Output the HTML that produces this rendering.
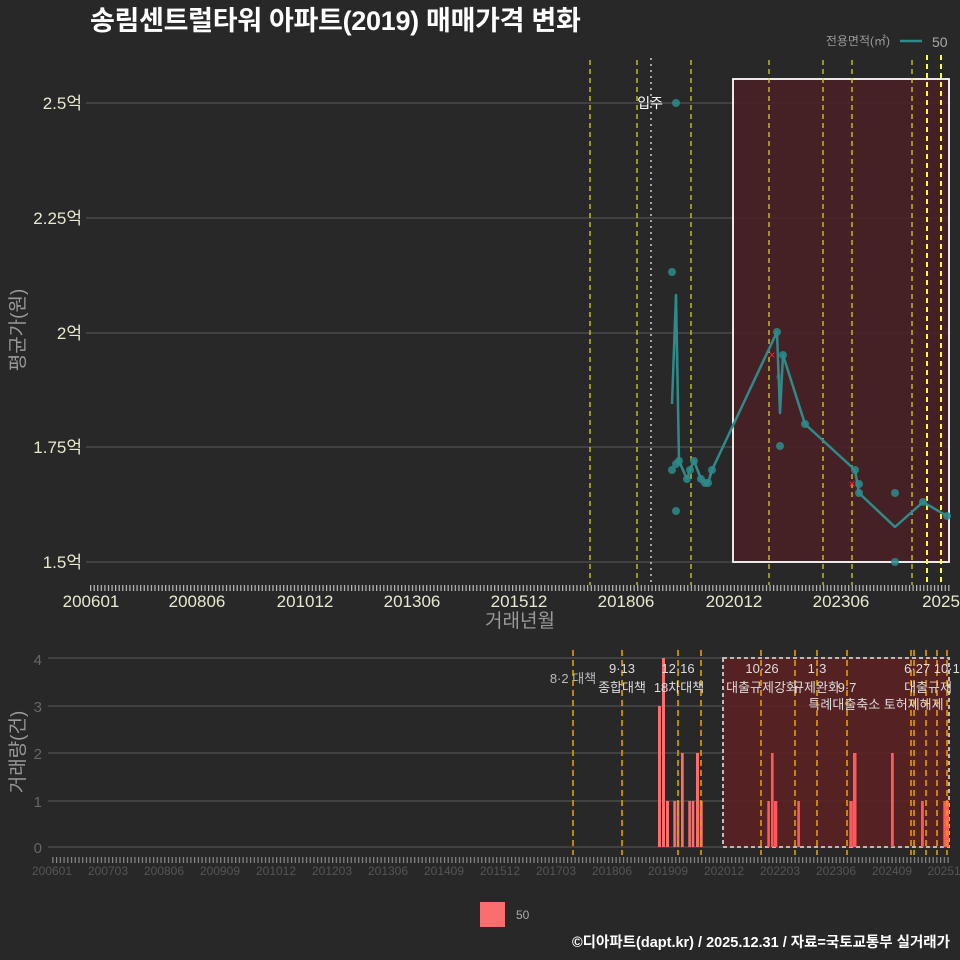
<!DOCTYPE html>
<html><head><meta charset="utf-8"><style>
html,body{margin:0;padding:0;background:#282828;}
svg{display:block;font-family:"Liberation Sans","Noto Sans CJK KR",sans-serif;}
</style></head><body>
<svg width="960" height="960" viewBox="0 0 960 960" xmlns="http://www.w3.org/2000/svg">
<defs>
<pattern id="tk1" x="90" y="0" width="3.576" height="10" patternUnits="userSpaceOnUse"><rect x="0" y="0" width="1.2" height="10" fill="#bbb"/></pattern>
<pattern id="tk2" x="56" y="0" width="3.73" height="10" patternUnits="userSpaceOnUse"><rect x="0" y="0" width="1.2" height="10" fill="#888"/></pattern>
</defs>
<rect width="960" height="960" fill="#282828"/>
<text x="90" y="30" font-size="27" font-weight="bold" fill="#fff" letter-spacing="-0.3">송림센트럴타워 아파트(2019) 매매가격 변화</text>
<text x="890" y="45" font-size="12" fill="#999" text-anchor="end">전용면적(㎡)</text>
<line x1="900" y1="41" x2="922" y2="41" stroke="#2e8b8b" stroke-width="2.5"/>
<text x="932" y="47" font-size="14" fill="#aaa">50</text>

<!-- top chart -->
<g stroke="#5a5a5a" stroke-width="1">
<line x1="86" y1="103" x2="950" y2="103"/><line x1="86" y1="218" x2="950" y2="218"/>
<line x1="86" y1="333" x2="950" y2="333"/><line x1="86" y1="447" x2="950" y2="447"/>
<line x1="86" y1="562" x2="950" y2="562"/>
</g>
<rect x="733" y="79" width="216" height="483" fill="#4a2024" fill-opacity="0.85" stroke="#fff" stroke-width="1.8"/>
<g stroke="#e0e020" stroke-width="1.2" stroke-dasharray="5,4">
<line x1="590" y1="60" x2="590" y2="585"/><line x1="637" y1="60" x2="637" y2="585"/>
<line x1="691" y1="60" x2="691" y2="585"/><line x1="769" y1="60" x2="769" y2="585"/>
<line x1="823" y1="60" x2="823" y2="585"/><line x1="852" y1="60" x2="852" y2="585"/>
<line x1="912" y1="60" x2="912" y2="585"/>
<line x1="927" y1="55" x2="927" y2="585" stroke-width="2" stroke="#ffff30"/>
<line x1="941" y1="55" x2="941" y2="585" stroke-width="2" stroke="#ffff30"/>
</g>
<line x1="651" y1="58" x2="651" y2="585" stroke="#ccc" stroke-width="1.5" stroke-dasharray="2,4"/>
<text x="663" y="108" font-size="14" fill="#fff" text-anchor="end">입주</text>
<polyline fill="none" stroke="#2e8b8b" stroke-width="2.5" stroke-linejoin="round" points="672,404 676,295 679,461 687,479 690,470 694,461 701,479 705,483 708,483 712,470 777,332 780,413 783,355 805,424 855,470 859,493 895,527 923,502 947,516"/>
<g fill="#2e8b8b" fill-opacity="0.85">
<circle cx="676" cy="103" r="4"/><circle cx="672" cy="272" r="4"/><circle cx="676" cy="511" r="4"/>
<circle cx="672" cy="470" r="4"/><circle cx="676" cy="464" r="4"/><circle cx="679" cy="461" r="4"/>
<circle cx="687" cy="479" r="4"/><circle cx="690" cy="470" r="4"/><circle cx="694" cy="461" r="4"/>
<circle cx="701" cy="479" r="4"/><circle cx="705" cy="483" r="4"/><circle cx="708" cy="483" r="4"/><circle cx="712" cy="470" r="4"/>
<circle cx="777" cy="332" r="4"/><circle cx="780" cy="446" r="4"/><circle cx="783" cy="355" r="4"/><circle cx="779" cy="377" r="3" fill-opacity="0.4"/>
<circle cx="805" cy="424" r="4"/><circle cx="855" cy="470" r="4"/><circle cx="859" cy="484" r="4"/><circle cx="859" cy="493" r="4"/>
<circle cx="895" cy="493" r="4"/><circle cx="895" cy="562" r="4"/><circle cx="923" cy="502" r="4"/><circle cx="947" cy="516" r="4"/>
</g>
<g fill="#ff2020" font-size="12" text-anchor="middle"><text x="772" y="359">×</text><text x="852" y="488">×</text></g>
<g font-size="17" fill="#e8e8cc" text-anchor="end">
<text x="82" y="109">2.5억</text><text x="82" y="224">2.25억</text><text x="82" y="339">2억</text>
<text x="82" y="453">1.75억</text><text x="82" y="568">1.5억</text>
</g>
<rect x="90" y="585" width="860" height="6" fill="url(#tk1)"/>
<g font-size="17" fill="#e8e8cc" text-anchor="middle">
<text x="91" y="607">200601</text><text x="197" y="607">200806</text><text x="305" y="607">201012</text>
<text x="412" y="607">201306</text><text x="519" y="607">201512</text><text x="626" y="607">201806</text>
<text x="734" y="607">202012</text><text x="841" y="607">202306</text><text x="941" y="607">2025</text>
</g>
<text x="520" y="627" font-size="19" fill="#999" text-anchor="middle">거래년월</text>
<text transform="translate(24,330) rotate(-90)" font-size="19" fill="#999" text-anchor="middle">평균가(원)</text>

<!-- bottom chart -->
<g stroke="#5a5a5a" stroke-width="1">
<line x1="48" y1="658" x2="950" y2="658"/><line x1="48" y1="706" x2="950" y2="706"/>
<line x1="48" y1="753" x2="950" y2="753"/><line x1="48" y1="801" x2="950" y2="801"/>
<line x1="48" y1="847" x2="950" y2="847"/>
</g>
<rect x="723" y="658" width="226" height="189" fill="#5a2022" fill-opacity="0.9" stroke="#ccc" stroke-width="1.8" stroke-dasharray="4,3"/>
<g fill="#fa6e6e">
<rect x="658" y="706" width="3" height="141"/><rect x="662" y="658" width="3" height="189"/>
<rect x="666" y="801" width="3" height="46"/><rect x="673.3" y="801" width="2.6" height="46"/>
<rect x="676.7" y="801" width="2.6" height="46"/><rect x="681" y="753" width="2.7" height="94"/>
<rect x="688.3" y="801" width="2.6" height="46"/><rect x="691.7" y="801" width="2.6" height="46"/>
<rect x="696" y="753" width="3" height="94"/><rect x="699.7" y="801" width="3" height="46"/>
</g>
<g fill="#ff5a5a">
<rect x="767.3" y="801" width="2.6" height="46"/><rect x="771" y="753" width="2.6" height="94"/>
<rect x="774" y="801" width="3.3" height="46"/><rect x="797.3" y="801" width="2.6" height="46"/>
<rect x="849.3" y="801" width="3.5" height="46"/><rect x="853" y="753" width="3.5" height="94"/>
<rect x="891" y="753" width="2.8" height="94"/><rect x="921" y="801" width="2.8" height="46"/>
<rect x="943.3" y="801" width="5.7" height="46"/>
</g>
<g stroke="#e0a000" stroke-width="1.6" stroke-dasharray="6,4">
<line x1="573" y1="650" x2="573" y2="855"/><line x1="622" y1="650" x2="622" y2="855"/>
<line x1="678" y1="650" x2="678" y2="855"/><line x1="701" y1="650" x2="701" y2="855"/>
<line x1="761" y1="650" x2="761" y2="855"/><line x1="795" y1="650" x2="795" y2="855"/>
<line x1="817" y1="650" x2="817" y2="855"/><line x1="847" y1="650" x2="847" y2="855"/>
<line x1="911" y1="650" x2="911" y2="855"/><line x1="914" y1="650" x2="914" y2="855"/>
<line x1="926" y1="650" x2="926" y2="855"/><line x1="937" y1="650" x2="937" y2="855"/>
<line x1="947" y1="650" x2="947" y2="855"/>
</g>
<g font-size="13" fill="#ddd" text-anchor="middle">
<text x="573" y="683" fill="#bbb">8·2 대책</text>
<text x="622" y="673">9·13</text><text x="622" y="692">종합대책</text>
<text x="678" y="673">12·16</text><text x="679" y="692">18차대책</text>
<text x="762" y="673">10·26</text><text x="762" y="692">대출규제강화</text>
<text x="817" y="673">1·3</text><text x="816" y="692">규제완화</text>
<text x="847" y="692">9·7</text>
<text x="876" y="709">특례대출축소 토허제해제</text>
<text x="932" y="673">6·27 10·1</text><text x="928" y="692">대출규제</text>
</g>
<g font-size="15" fill="#666" text-anchor="end">
<text x="42" y="665">4</text><text x="42" y="712">3</text><text x="42" y="759">2</text><text x="42" y="807">1</text><text x="42" y="853">0</text>
</g>
<rect x="50" y="857" width="900" height="6" fill="url(#tk2)"/>
<g font-size="12" fill="#555" text-anchor="middle">
<text x="52" y="875">200601</text><text x="108" y="875">200703</text><text x="164" y="875">200806</text>
<text x="220" y="875">200909</text><text x="276" y="875">201012</text><text x="332" y="875">201203</text>
<text x="388" y="875">201306</text><text x="444" y="875">201409</text><text x="500" y="875">201512</text>
<text x="556" y="875">201703</text><text x="612" y="875">201806</text><text x="668" y="875">201909</text>
<text x="724" y="875">202012</text><text x="780" y="875">202203</text><text x="836" y="875">202306</text>
<text x="892" y="875">202409</text><text x="944" y="875">20251</text>
</g>
<text transform="translate(24,752) rotate(-90)" font-size="19" fill="#999" text-anchor="middle">거래량(건)</text>
<rect x="480" y="902" width="25" height="25" fill="#fa6e6e"/>
<text x="516" y="919" font-size="12" fill="#aaa">50</text>
<text x="950" y="947" font-size="14.5" font-weight="bold" fill="#fff" text-anchor="end">©디아파트(dapt.kr) / 2025.12.31 / 자료=국토교통부 실거래가</text>
</svg>
</body></html>
